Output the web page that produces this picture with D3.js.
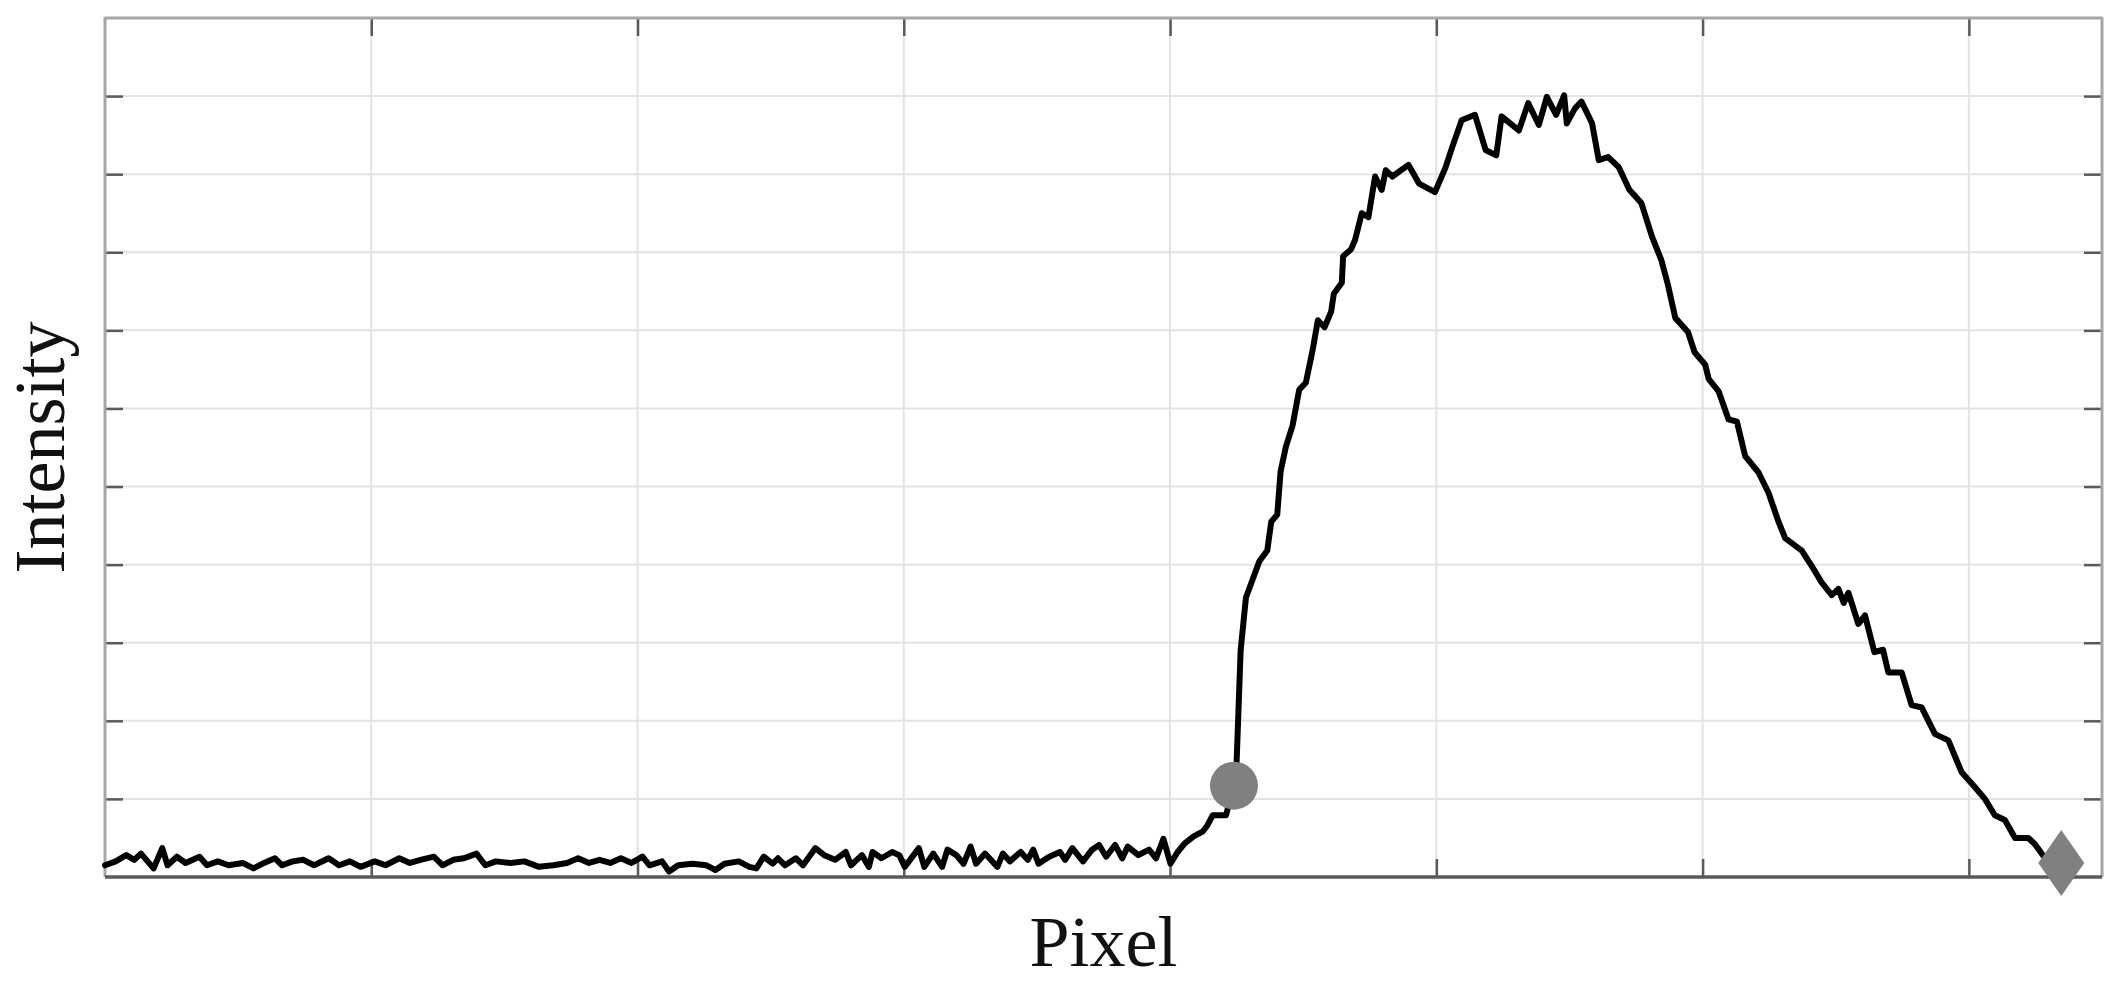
<!DOCTYPE html>
<html>
<head>
<meta charset="utf-8">
<script src="https://cdn.jsdelivr.net/npm/d3@7"></script>
<style>
  html, body { margin: 0; padding: 0; background: #fff; }
  svg { display: block; }
</style>
</head>
<body>
<svg id="chart" width="2124" height="984"></svg>
<script>
// values
var pixel = [
  0, 8, 16, 22, 27, 32, 36.5, 43, 47, 54, 60.5, 71, 76.6, 84.7, 92.8, 103.5, 111.5, 119.5, 127.6, 133,
  141, 149, 157, 168, 175.8, 184, 192, 202.6, 210.7, 221, 229, 237, 247, 253.6, 261.6, 269.6, 279, 285.7,
  293.7, 304.5, 315, 326, 336.7, 347, 355.4, 363.5, 371.5, 379.5, 387.5, 395.5, 403.7,
  409, 418.4, 423.7, 430.5, 441.2, 451.8, 458.5, 465.3, 476, 484, 489.3, 494.8, 501.5, 505.5, 510.8,
  518.9, 524.3, 533.6, 540.3, 548.4, 556.4, 560.4, 568.5, 573.8, 576.5, 583.2, 591.3, 596.6, 600.7,
  611.3, 615.4, 622.1, 628.8, 632.8, 639.5, 644.9, 650.2, 654.3, 661, 670.3, 674.4, 679.7, 687.8,
  693.1, 697.2, 701.2, 709.2, 717.3, 721.2, 726.6, 734.6, 741.4, 746.7, 752, 758.7, 764.1, 768.2,
  776.2, 784.2, 789.5, 795, 800.3, 805.7, 811, 817.7, 824.4, 828, 832, 842, 848,
  850, 853, 857, 862, 867, 873, 876, 880.5, 883, 887, 892, 897, 902, 907, 911, 916, 921, 923, 929,
  930, 936, 939, 944, 949, 954, 959, 962, 967, 979, 987, 999, 1007, 1012, 1019, 1029, 1034, 1037,
  1045, 1049, 1062, 1069, 1077, 1083, 1090, 1096, 1098, 1104, 1109, 1117, 1122, 1129, 1137, 1145,
  1154, 1162, 1169, 1174, 1179.5, 1189, 1194, 1202, 1204.5, 1212, 1219.5, 1225.8, 1232, 1242,
  1249.5, 1257, 1262, 1274.5, 1282, 1289.5, 1297, 1302, 1306, 1309.5, 1317, 1322, 1329, 1335.5,
  1339.5, 1349.5, 1357, 1364.6, 1374.6, 1384.6, 1394.6, 1404.6, 1412, 1419.5, 1427, 1434.7,
  1444.7, 1449.7, 1456, 1469.4
];
var intensity = [
  0.15, 0.20, 0.28, 0.22, 0.30, 0.20, 0.11, 0.37, 0.15, 0.26, 0.18, 0.26, 0.15, 0.20, 0.15, 0.18, 0.11, 0.18, 0.24, 0.15,
  0.20, 0.22, 0.15, 0.24, 0.15, 0.20, 0.13, 0.20, 0.15, 0.24, 0.18, 0.22, 0.26, 0.15, 0.22, 0.24, 0.30, 0.15,
  0.20, 0.18, 0.20, 0.13, 0.15, 0.18, 0.24, 0.18, 0.22, 0.18, 0.24, 0.18, 0.26,
  0.15, 0.20, 0.07, 0.15, 0.17, 0.15, 0.09, 0.17, 0.20, 0.13, 0.11, 0.26, 0.17, 0.24, 0.15,
  0.24, 0.15, 0.37, 0.28, 0.22, 0.32, 0.15, 0.28, 0.13, 0.32, 0.24, 0.32, 0.28, 0.13,
  0.37, 0.13, 0.30, 0.13, 0.35, 0.28, 0.17, 0.39, 0.17, 0.30, 0.13, 0.30, 0.20, 0.32,
  0.22, 0.35, 0.17, 0.26, 0.32, 0.22, 0.37, 0.20, 0.35, 0.41, 0.26, 0.41, 0.24, 0.39,
  0.28, 0.35, 0.24, 0.49, 0.17, 0.32, 0.43, 0.52, 0.58, 0.66, 0.79, 0.79, 1.17,
  1.48, 2.90, 3.58, 3.81, 4.04, 4.18, 4.55, 4.64, 5.19, 5.51, 5.78, 6.24, 6.33, 6.74, 7.13, 7.04, 7.24, 7.47, 7.61,
  7.95, 8.04, 8.16, 8.50, 8.45, 8.97, 8.80, 9.05, 8.97, 9.12, 8.88, 8.77, 9.09, 9.35, 9.69, 9.76, 9.48, 9.31,
  9.24, 9.74, 9.56, 9.91, 9.63, 9.99, 9.76, 10.01, 9.65, 9.84, 9.93, 9.65, 9.18, 9.22, 9.09, 8.80,
  8.63, 8.20, 7.90, 7.58, 7.16, 6.98, 6.72, 6.56, 6.38, 6.22, 5.86, 5.83, 5.39, 5.18,
  4.92, 4.55, 4.34, 4.18, 3.98, 3.77, 3.61, 3.69, 3.51, 3.64, 3.24, 3.35, 2.88, 2.91,
  2.62, 2.62, 2.20, 2.17, 1.83, 1.75, 1.34, 1.15, 1.00, 0.79, 0.73, 0.50,
  0.50, 0.42, 0.27, 0.18
];
var xTicks = [200, 400, 600, 800, 1000, 1200, 1400];
var yTicks = [1, 2, 3, 4, 5, 6, 7, 8, 9, 10];
var startPoint = [848, 1.17];
var endPoint = [1469.4, 0.18];

function drawChart(){
    var svg = d3.select('#chart');
    var pLeft = 105, pRight = 2102, pTop = 18, pBottom = 877;

    var x = d3.scaleLinear().domain([0, 1500]).range([pLeft, pRight]);
    var y = d3.scaleLinear().domain([0, 11]).range([pBottom, pTop]);

    // grid
    var grid = svg.append('g');
    grid.selectAll('line.vg')
        .data(xTicks).enter().append('line')
        .attr('class', 'vg')
        .attr('x1', function(d){ return x(d); })
        .attr('x2', function(d){ return x(d); })
        .attr('y1', pTop).attr('y2', pBottom)
        .attr('stroke', '#e3e3e3').attr('stroke-width', 2);
    grid.selectAll('line.hg')
        .data(yTicks).enter().append('line')
        .attr('class', 'hg')
        .attr('y1', function(d){ return y(d); })
        .attr('y2', function(d){ return y(d); })
        .attr('x1', pLeft).attr('x2', pRight)
        .attr('stroke', '#e3e3e3').attr('stroke-width', 2);

    // inward ticks on all four sides
    var tickLen = 18;
    var axes = [
        [d3.axisTop(x).tickValues(xTicks), 'translate(0,' + pBottom + ')'],
        [d3.axisBottom(x).tickValues(xTicks), 'translate(0,' + pTop + ')'],
        [d3.axisRight(y).tickValues(yTicks), 'translate(' + pLeft + ',0)'],
        [d3.axisLeft(y).tickValues(yTicks), 'translate(' + pRight + ',0)']
    ];
    axes.forEach(function(a){
        var g = svg.append('g')
            .attr('transform', a[1])
            .call(a[0].tickSize(tickLen).tickFormat(''));
        g.select('.domain').remove();
        g.selectAll('.tick line').attr('stroke', '#5a5a5a').attr('stroke-width', 2.5);
    });

    // frame
    svg.append('path')
        .attr('d', 'M' + pLeft + ',' + pBottom + 'V' + pTop + 'H' + pRight + 'V' + pBottom)
        .attr('fill', 'none').attr('stroke', '#a6a6a6').attr('stroke-width', 3)
        .attr('stroke-linejoin', 'round');
    svg.append('line')
        .attr('x1', pLeft).attr('x2', pRight).attr('y1', pBottom).attr('y2', pBottom)
        .attr('stroke', '#5a5a5a').attr('stroke-width', 3.5);

    // profile line
    var pts = pixel.map(function(p, i){ return [p, intensity[i]]; });
    svg.append('path')
        .datum(pts)
        .attr('d', d3.line().x(function(d){ return x(d[0]); }).y(function(d){ return y(d[1]); }))
        .attr('fill', 'none').attr('stroke', '#000').attr('stroke-width', 6)
        .attr('stroke-linejoin', 'round').attr('stroke-linecap', 'round');

    // markers
    svg.append('circle')
        .attr('cx', x(startPoint[0])).attr('cy', y(startPoint[1])).attr('r', 24)
        .attr('fill', '#808080');
    var dx = 23, dy = 33, ex = x(endPoint[0]), ey = y(endPoint[1]);
    svg.append('path')
        .attr('d', 'M' + ex + ',' + (ey - dy) + 'L' + (ex + dx) + ',' + ey +
                   'L' + ex + ',' + (ey + dy) + 'L' + (ex - dx) + ',' + ey + 'Z')
        .attr('fill', '#808080');

    // axis titles
    svg.append('text')
        .attr('x', (pLeft + pRight) / 2).attr('y', 966)
        .attr('text-anchor', 'middle')
        .attr('font-family', 'Liberation Serif, Times New Roman, serif')
        .attr('font-size', 72).attr('fill', '#111')
        .text('Pixel');
    svg.append('text')
        .attr('transform', 'translate(64,' + ((pTop + pBottom) / 2) + ') rotate(-90)')
        .attr('text-anchor', 'middle')
        .attr('font-family', 'Liberation Serif, Times New Roman, serif')
        .attr('font-size', 72).attr('fill', '#111')
        .text('Intensity');
}

drawChart();
</script>
</body>
</html>
